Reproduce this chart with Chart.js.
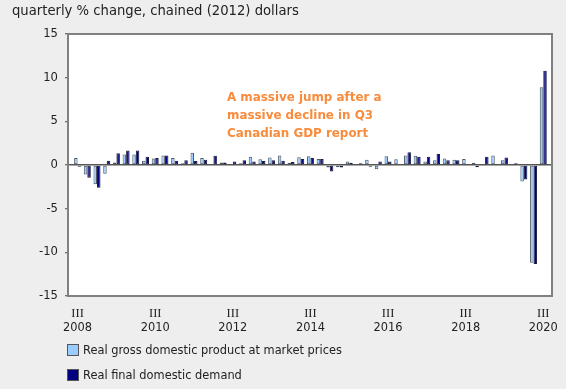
<!DOCTYPE html>
<html><head><meta charset="utf-8">
<script src="https://cdn.jsdelivr.net/npm/chart.js@4/dist/chart.umd.min.js"></script>
<style>
html,body{margin:0;padding:0;background:#eeeeee;}
#wrap{position:relative;width:566px;height:389px;overflow:hidden;font-family:'DejaVu Sans',sans-serif;color:#222;}
canvas{position:absolute;left:0;top:0;}
#title{position:absolute;left:12px;top:3px;font-size:13.2px;white-space:nowrap;}
#note{position:absolute;left:227px;top:88px;font-size:11.9px;font-weight:bold;color:#f98b3c;line-height:18px;white-space:nowrap;}
.leg{position:absolute;left:67px;font-size:11.4px;display:flex;align-items:center;white-space:nowrap;}
.sw{width:10px;height:10px;border:1px solid #555;margin-right:4px;}
</style></head>
<body>
<div id="wrap">
<canvas id="c" width="566" height="389"></canvas>
<div id="title">quarterly % change, chained (2012) dollars</div>
<div id="note">A massive jump after a<br>massive decline in Q3<br>Canadian GDP report</div>
<div class="leg" style="top:343px"><span class="sw" style="background:#99ccff"></span>Real gross domestic product at market prices</div>
<div class="leg" style="top:368px"><span class="sw" style="background:#000080"></span>Real final domestic demand</div>
</div>
<script>
const quarters = ['2008 Q3','2008 Q4','2009 Q1','2009 Q2','2009 Q3','2009 Q4','2010 Q1','2010 Q2','2010 Q3','2010 Q4',
'2011 Q1','2011 Q2','2011 Q3','2011 Q4','2012 Q1','2012 Q2','2012 Q3','2012 Q4','2013 Q1','2013 Q2','2013 Q3','2013 Q4',
'2014 Q1','2014 Q2','2014 Q3','2014 Q4','2015 Q1','2015 Q2','2015 Q3','2015 Q4','2016 Q1','2016 Q2','2016 Q3','2016 Q4',
'2017 Q1','2017 Q2','2017 Q3','2017 Q4','2018 Q1','2018 Q2','2018 Q3','2018 Q4','2019 Q1','2019 Q2','2019 Q3','2019 Q4',
'2020 Q1','2020 Q2','2020 Q3'];
const gdp = [0.8,-1.1,-2.2,-1.0,0.3,1.2,1.2,0.5,0.75,1.1,
0.8,0.2,1.4,0.8,0.1,0.3,0.1,0.2,0.95,0.65,0.85,1.1,
0.25,0.9,1.0,0.7,-0.3,-0.25,0.4,0.1,0.6,-0.5,1.0,0.65,
1.1,1.05,0.4,0.55,0.75,0.6,0.7,0.25,0.1,1.1,0.55,0.1,
-1.9,-11.2,8.9];
const fdd = [-0.2,-1.45,-2.6,0.5,1.35,1.65,1.65,0.95,0.8,1.1,
0.5,0.55,0.45,0.6,1.05,0.3,0.4,0.55,0.4,0.45,0.55,0.5,
0.35,0.7,0.8,0.7,-0.75,-0.3,0.25,0.2,-0.2,0.4,0.4,0.1,
1.45,0.95,0.95,1.25,0.55,0.55,0.05,-0.25,0.95,0.05,0.85,0.2,
-1.65,-11.35,10.8];
const tickQuarter = 'III';
const tickYears = ['2008','2010','2012','2014','2016','2018','2020'];
const seriesNames = ['Real gross domestic product at market prices','Real final domestic demand'];

const toXY = arr => arr.map((v,i)=>({x:i,y:v}));

const framePlugin = {
  id:'frame',
  beforeDraw(chart){
    const {ctx, chartArea:a} = chart;
    ctx.save(); ctx.fillStyle='#ffffff';
    ctx.fillRect(a.left,a.top,a.right-a.left,a.bottom-a.top); ctx.restore();
  },
  afterDraw(chart){
    const {ctx, chartArea:a} = chart;
    ctx.save();
    ctx.strokeStyle='#808080'; ctx.lineWidth=2;
    ctx.strokeRect(a.left,a.top,a.right-a.left,a.bottom-a.top);
    const xs = chart.scales.x;
    ctx.fillStyle='#222'; ctx.textAlign='center'; ctx.textBaseline='middle';
    tickYears.forEach(yr=>{
      const idx = quarters.indexOf(yr+' Q3');
      const px = xs.getPixelForValue(idx);
      ctx.font='12.5px "Liberation Serif", serif';
      ctx.fillText(tickQuarter, px, 314);
      ctx.font='11.4px "DejaVu Sans", sans-serif';
      ctx.fillText(yr, px, 328);
    });
    ctx.restore();
  }
};

new Chart(document.getElementById('c'), {
  type:'bar',
  data:{
    datasets:[
      {label:seriesNames[0], data:toXY(gdp), backgroundColor:'#99ccff', borderColor:'#4d5a66', borderWidth:1, borderSkipped:false},
      {label:seriesNames[1], data:toXY(fdd), backgroundColor:'#000080', borderColor:'#1a1a40', borderWidth:1, borderSkipped:false}
    ]
  },
  options:{
    responsive:false, animation:false,
    layout:{padding:{top:34,right:14,left:0,bottom:0}},
    plugins:{legend:{display:false}, tooltip:{enabled:false}},
    datasets:{bar:{categoryPercentage:0.72, barPercentage:1.0}},
    scales:{
      x:{type:'linear', min:-0.99, max:48.9, offset:false,
         grid:{display:false}, border:{display:false},
         ticks:{display:false},
         afterFit(s){ s.height = 93; }},
      y:{min:-15, max:15, z:1,
         ticks:{stepSize:5, color:'#222', font:{family:'"DejaVu Sans", sans-serif', size:11.6}, padding:7},
         grid:{drawOnChartArea:true, color:c=>c.tick && c.tick.value===0 ? '#555555' : 'rgba(0,0,0,0)', lineWidth:1.5, tickLength:3, tickColor:'#444', tickWidth:1},
         border:{display:false},
         afterFit(s){ s.width = 68; }}
    }
  },
  plugins:[framePlugin]
});
</script>
</body></html>
